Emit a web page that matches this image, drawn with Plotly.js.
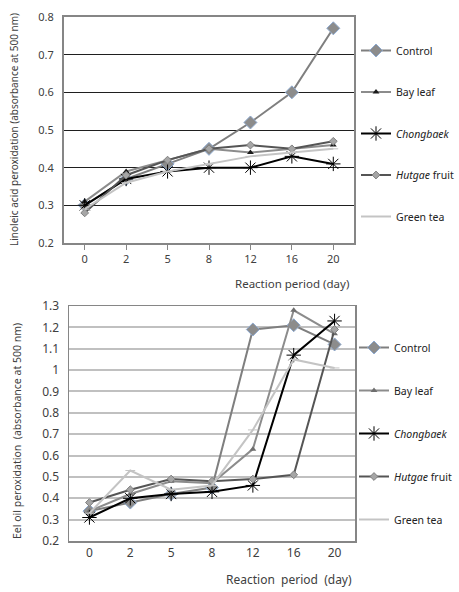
<!DOCTYPE html>
<html>
<head>
<meta charset="utf-8">
<script src="https://cdn.plot.ly/plotly-3.0.1.min.js"></script>
<style>html,body{margin:0;padding:0;background:#fff;}#chart{width:459px;height:592px;}</style>
</head>
<body>
<div id="chart"></div>
<script>
// ---- data ----
const days = ["0", "2", "5", "8", "12", "16", "20"];
const seriesNames = ["Control", "Bay leaf", "<i>Chongbaek</i>", "<i>Hutgae</i> fruit", "Green tea"];

// Linoleic acid peroxidation (absorbance at 500 nm)
const linControl   = [0.30, 0.37, 0.41, 0.45, 0.52, 0.60, 0.77];
const linBayLeaf   = [0.31, 0.39, 0.42, 0.45, 0.44, 0.45, 0.46];
const linChongbaek = [0.30, 0.37, 0.39, 0.40, 0.40, 0.43, 0.41];
const linHutgae    = [0.28, 0.38, 0.42, 0.45, 0.46, 0.45, 0.47];
const linGreenTea  = [0.29, 0.36, 0.39, 0.41, 0.43, 0.44, 0.45];

// Eel oil peroxidation (absorbance at 500 nm)
const eelControl   = [0.34, 0.38, 0.42, 0.45, 1.19, 1.21, 1.12];
const eelBayLeaf   = [0.34, 0.42, 0.48, 0.47, 0.63, 1.28, 1.17];
const eelChongbaek = [0.31, 0.40, 0.42, 0.43, 0.46, 1.07, 1.23];
const eelHutgae    = [0.38, 0.44, 0.49, 0.48, 0.49, 0.51, 1.19];
const eelGreenTea  = [0.33, 0.53, 0.44, 0.46, 0.72, 1.05, 1.01];

// ---- styles ----
const FONT = "Noto Sans, DejaVu Sans, sans-serif";
function styles(top) {
  return [
    {line:{color:"#7f7f7f", width:2}, marker:{symbol:"diamond", size:10, color:"#8c8c8c", line:{color:"#8eaad0", width:1}}},
    {line:{color:"#8c8c8c", width:2}, marker:{symbol:"triangle-up", size:6, color: top?"#1a1a1a":"#6e6e6e", line:{width:0}}},
    {line:{color:"#000000", width:2}, marker:{symbol:"asterisk-open", size:12, line:{color:"#000000", width:1}}},
    {line:{color:"#555555", width:2}, marker:{symbol:"diamond", size:6, color:"#a6a6a6", line:{color:"#808080", width:1}}},
    {line:{color:"#c4c4c4", width:2}, marker:{symbol:"line-ew-open", size:7, line:{color:"#b0b0b0", width:1}}}
  ];
}

const linSeries = [linControl, linBayLeaf, linChongbaek, linHutgae, linGreenTea];
const eelSeries = [eelControl, eelBayLeaf, eelChongbaek, eelHutgae, eelGreenTea];

const traces = [];
const sTop = styles(true), sBot = styles(false);
linSeries.forEach((ys, i) => {
  traces.push(Object.assign({
    type:"scatter", mode:"lines+markers", x:days, y:ys, name:seriesNames[i],
    xaxis:"x", yaxis:"y", legend:"legend", legendgroup:"t"+i
  }, sTop[i]));
});
eelSeries.forEach((ys, i) => {
  traces.push(Object.assign({
    type:"scatter", mode:"lines+markers", x:days, y:ys, name:seriesNames[i],
    xaxis:"x2", yaxis:"y2", legend:"legend2", legendgroup:"b"+i
  }, sBot[i]));
});

const W = 459, H = 592;
const px = v => v / W, py = v => 1 - v / H;

const layout = {
  width: W, height: H,
  margin:{l:0, r:0, t:0, b:0, autoexpand:false},
  paper_bgcolor:"#ffffff", plot_bgcolor:"#ffffff",
  font:{family:FONT, size:11, color:"#404040"},
  showlegend:true,
  xaxis:{
    domain:[px(64), px(354)], anchor:"y", type:"category", range:[-0.5, 6.5],
    showline:true, linecolor:"#868686", linewidth:2, mirror:true,
    ticks:"outside", ticklen:5, tickcolor:"#868686", showgrid:false, zeroline:false,
    tickfont:{family:FONT, size:11, color:"#404040"}
  },
  yaxis:{
    domain:[py(243), py(17)], anchor:"x", range:[0.2, 0.8], dtick:0.1, tick0:0.2,
    showline:true, linecolor:"#868686", linewidth:2, mirror:true,
    showgrid:true, gridcolor:"#1f1f1f", gridwidth:1, zeroline:false,
    ticks:"", tickformat:".1f", ticklabelstandoff:6,
    tickfont:{family:FONT, size:11, color:"#404040"}
  },
  xaxis2:{
    domain:[px(69), px(355)], anchor:"y2", type:"category", range:[-0.5, 6.5],
    showline:true, linecolor:"#868686", linewidth:1.5, mirror:true,
    ticks:"", showgrid:false, zeroline:false,
    tickfont:{family:FONT, size:12, color:"#404040"}
  },
  yaxis2:{
    domain:[py(541), py(306)], anchor:"x2", range:[0.2, 1.3], dtick:0.1, tick0:0.2,
    showline:true, linecolor:"#868686", linewidth:1.5, mirror:true,
    showgrid:true, gridcolor:"#c0c0c0", gridwidth:2, zeroline:false,
    ticks:"", ticklabelstandoff:6,
    tickfont:{family:FONT, size:12, color:"#404040"}
  },
  legend:{
    x:px(356), xanchor:"left", y:py(36), yanchor:"top",
    traceorder:"grouped", tracegroupgap:22.5, bgcolor:"rgba(0,0,0,0)",
    font:{family:FONT, size:10.5, color:"#222"}, itemwidth:30
  },
  legend2:{
    x:px(354), xanchor:"left", y:py(333), yanchor:"top",
    traceorder:"grouped", tracegroupgap:24, bgcolor:"rgba(0,0,0,0)",
    font:{family:FONT, size:10.5, color:"#222"}, itemwidth:30
  },
  annotations:[
    {text:"Linoleic acid peroxidation (absorbance at 500 nm)", textangle:-90,
     x:px(14), y:py(130), xref:"paper", yref:"paper", xanchor:"center", yanchor:"middle", showarrow:false,
     font:{family:FONT, size:10, color:"#404040"}},
    {text:"Reaction period (day)", x:px(292), y:py(283), xref:"paper", yref:"paper",
     xanchor:"center", yanchor:"middle",
     showarrow:false, font:{family:FONT, size:11.5, color:"#404040"}},
    {text:"Eel oil peroxidation  (absorbance at 500 nm)", textangle:-90,
     x:px(17), y:py(431), xref:"paper", yref:"paper", xanchor:"center", yanchor:"middle", showarrow:false,
     font:{family:FONT, size:10.5, color:"#404040"}},
    {text:"Reaction  period  (day)", x:px(289), y:py(579), xref:"paper", yref:"paper",
     xanchor:"center", yanchor:"middle",
     showarrow:false, font:{family:FONT, size:12, color:"#404040"}}
  ]
};

Plotly.newPlot("chart", traces, layout, {staticPlot:true, displayModeBar:false});
</script>
</body>
</html>
